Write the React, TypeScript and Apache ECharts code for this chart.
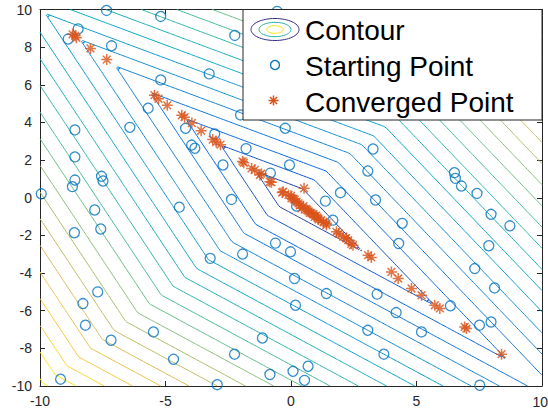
import React, { useEffect, useRef } from "react";
import * as echarts from "echarts";

// Piecewise-linear objective whose contours are drawn: f = A|x+y| + B|x-y| + C(x-y)
const F_A = 1.064;
const F_B = 0.266;
const F_C = -0.0915;
const CONTOUR_LEVELS = [1, 2, 3, 4, 5, 6, 7, 8, 9, 10, 11, 12, 13, 14, 15, 16, 17, 18, 19, 20, 21];
const GRID_COUNT = 201; // samples per axis over [-10, 10]

const X_TICKS = [-10, -5, 0, 5, 10];
const Y_TICKS = [-10, -8, -6, -4, -2, 0, 2, 4, 6, 8, 10];

const LEGEND_LABELS = ["Contour", "Starting Point", "Converged Point"];

const startX = [
  -7.35, -5.19, -8.48, -8.88, -7.15, -2.24, -3.26, -5.19, -5.69, -6.42,
  -8.61, -4.2, -3.04, -3.96, -3.83, -1.79, -8.61, -2.71, -7.55, -8.61,
  -7.49, -8.71, -9.95, -2.01, -2.37, -4.45, -0.82, -7.82, -7.58, -8.63,
  -7.7, -3.22, -8.29, -8.19, -7.17, -5.48, -4.68, -2.25, -9.18, -2.94,
  -1.93, -0.62, -1.14, -0.84, 1.67, -0.02, 4.43, 4.29, 0.14, 1.41,
  3.43, 0.18, 4.19, 3.06, 5.2, 6.35, 7.51, 7.97, 3.7, 7.32,
  8.11, 7.88, 7.97, 8.72, 0.08, 0.68, 0.54, 7.52, -0.23, 3.27,
  -0.06, 3.06, 1.97, 1.37, 3.37, 6.51, 6.55, 6.79, 7.41, 0.22,
  -0.55,
];
const startY = [
  9.95, 9.63, 8.97, 8.43, 8.07, 8.62, 6.58, 6.26, 4.76, 3.74,
  3.6, 3.69, 3.39, 2.8, 2.63, 2.61, 2.17, 1.74, 1.14, 0.94,
  0.89, 0.59, 0.21, 4.4, -0.09, -0.5, 1.31, -0.65, -1.66, -1.86,
  -5.0, -3.22, -5.62, -6.77, -7.57, -7.13, -8.58, -8.31, -9.64, -9.93,
  -2.99, -2.41, -7.45, -9.39, -1.19, -2.87, -1.36, -2.43, -4.29, -5.09,
  -5.12, -5.71, -6.1, -7.04, -7.13, -5.74, -6.77, -6.6, -8.31, -3.76,
  -4.79, -2.55, -0.88, -1.49, -9.22, -8.95, -9.7, -9.96, 3.69, 2.59,
  1.74, 1.42, 0.27, -0.18, -0.12, 1.33, 1.03, 0.62, 0.23, -0.44,
  9.9,
];

const convX = [
  -8.7, -8.6, -8.55, -7.99, -7.34, -5.44, -5.28, -4.93, -4.35, -4.24,
  -3.95, -3.58, -3.12, -2.98, -2.81, -1.93, -1.88, -1.57, -1.44, -1.24,
  -1.18, -0.84, -0.78, -0.31, -0.35, 0.02, 0.22, 0.52, 0.1, 0.3,
  0.42, 0.5, 0.6, 0.7, 0.82, 0.9, 0.95, 1.05, 1.1, 1.2,
  1.3, 1.41, 1.41, -0.1, 0.0, 0.15, 0.35, 0.65, 0.75, 1.0,
  1.81, 1.9, 2.08, 2.2, 2.28, 2.4, 2.47, 3.07, 3.2, 4.0,
  4.27, 4.8, 5.2, 5.73, 5.93, 6.92, 6.99, 8.39,
];
const convY = [
  8.68, 8.6, 8.5, 7.93, 7.34, 5.45, 5.26, 4.91, 4.38, 4.28,
  3.97, 3.56, 3.09, 2.96, 2.82, 1.93, 1.86, 1.56, 1.48, 1.21,
  1.28, 0.85, 0.82, 0.32, 0.28, -0.03, -0.21, 0.5, -0.05, -0.3,
  -0.56, -0.45, -0.6, -0.72, -0.83, -0.88, -1.01, -1.05, -1.15, -1.2,
  -1.3, -1.36, -1.45, 0.15, 0.1, -0.1, -0.4, -0.65, -0.8, -0.95,
  -1.81, -1.9, -2.07, -2.15, -2.25, -2.45, -2.52, -3.05, -3.17, -3.94,
  -4.29, -4.82, -5.18, -5.71, -5.88, -6.86, -6.95, -8.31,
];

const PARULA = ["#352a87", "#0363e1", "#1485d4", "#06a7c6", "#38b99e", "#92bf73", "#d9ba56", "#fcce2e", "#f9fb0e"];
const BLUE = "#0072BD";
const ORANGE = "#D95319";
const AXIS_COLOR = "#262626";
const FONT_FAMILY = '"Liberation Sans", Arial, Helvetica, sans-serif';

function hexToRgb(h: string) {
  const v = parseInt(h.slice(1), 16);
  return [(v >> 16) & 255, (v >> 8) & 255, v & 255];
}
function parula(t: number) {
  const tt = Math.max(0, Math.min(1, t));
  const p = tt * (PARULA.length - 1);
  const i = Math.min(Math.floor(p), PARULA.length - 2);
  const f = p - i;
  const a = hexToRgb(PARULA[i]);
  const b = hexToRgb(PARULA[i + 1]);
  const c = a.map((v, k) => Math.round(v + (b[k] - v) * f));
  return `rgb(${c[0]},${c[1]},${c[2]})`;
}

function objective(x: number, y: number) {
  return F_A * Math.abs(x + y) + F_B * Math.abs(x - y) + F_C * (x - y);
}

function contourLines(level: number, xs: number[], ys: number[], Z: number[][]) {
  const pts = new Map<string, number[]>();
  const adj = new Map<string, number[]>();
  const segs: [string, string][] = [];
  const addPt = (key: string, xa: number, ya: number, va: number, xb: number, yb: number, vb: number) => {
    if (!pts.has(key)) {
      const t = (level - va) / (vb - va);
      pts.set(key, [xa + t * (xb - xa), ya + t * (yb - ya)]);
    }
  };
  const n = xs.length;
  const m = ys.length;
  for (let j = 0; j < m - 1; j++) {
    for (let i = 0; i < n - 1; i++) {
      const v0 = Z[j][i], v1 = Z[j][i + 1], v2 = Z[j + 1][i + 1], v3 = Z[j + 1][i];
      const cross: string[] = [];
      if (v0 > level !== v1 > level) {
        const k = `h${i}_${j}`;
        addPt(k, xs[i], ys[j], v0, xs[i + 1], ys[j], v1);
        cross.push(k);
      }
      if (v1 > level !== v2 > level) {
        const k = `v${i + 1}_${j}`;
        addPt(k, xs[i + 1], ys[j], v1, xs[i + 1], ys[j + 1], v2);
        cross.push(k);
      }
      if (v3 > level !== v2 > level) {
        const k = `h${i}_${j + 1}`;
        addPt(k, xs[i], ys[j + 1], v3, xs[i + 1], ys[j + 1], v2);
        cross.push(k);
      }
      if (v0 > level !== v3 > level) {
        const k = `v${i}_${j}`;
        addPt(k, xs[i], ys[j], v0, xs[i], ys[j + 1], v3);
        cross.push(k);
      }
      if (cross.length === 2) segs.push([cross[0], cross[1]]);
      else if (cross.length === 4) {
        segs.push([cross[0], cross[1]]);
        segs.push([cross[2], cross[3]]);
      }
    }
  }
  segs.forEach((s, idx) => {
    for (const k of s) {
      if (!adj.has(k)) adj.set(k, []);
      adj.get(k)!.push(idx);
    }
  });
  const used = new Array(segs.length).fill(false);
  const walk = (startKey: string) => {
    const line: number[][] = [pts.get(startKey)!];
    let cur = startKey;
    for (;;) {
      const list = adj.get(cur) || [];
      let next = -1;
      for (const s of list) if (!used[s]) { next = s; break; }
      if (next < 0) break;
      used[next] = true;
      const [a, b] = segs[next];
      cur = a === cur ? b : a;
      line.push(pts.get(cur)!);
    }
    return line;
  };
  const lines: number[][][] = [];
  adj.forEach((list, key) => {
    if (list.length === 1 && !used[list[0]]) lines.push(walk(key));
  });
  for (let s = 0; s < segs.length; s++) if (!used[s]) lines.push(walk(segs[s][0]));
  return lines;
}

export default function App() {
  const ref = useRef<HTMLDivElement>(null);
  useEffect(() => {
    if (!ref.current) return;
    const chart = echarts.init(ref.current, undefined, { renderer: "svg" });

    const xs: number[] = [];
    const ys: number[] = [];
    for (let i = 0; i < GRID_COUNT; i++) {
      xs.push((i - (GRID_COUNT - 1) / 2) / ((GRID_COUNT - 1) / 20));
      ys.push((i - (GRID_COUNT - 1) / 2) / ((GRID_COUNT - 1) / 20));
    }
    const Z = ys.map((y) => xs.map((x) => objective(x, y)));
    let zmin = Infinity, zmax = -Infinity;
    Z.forEach((r) => r.forEach((v) => { if (v < zmin) zmin = v; if (v > zmax) zmax = v; }));

    const series: any[] = [];
    CONTOUR_LEVELS.forEach((lv) => {
      const color = parula((lv - zmin) / (zmax - zmin));
      contourLines(lv, xs, ys, Z).forEach((line) => {
        series.push({
          type: "line",
          data: line,
          showSymbol: false,
          symbol: "none",
          silent: true,
          lineStyle: { color, width: 1 },
          z: 1,
        });
      });
    });

    series.push({
      type: "scatter",
      name: LEGEND_LABELS[1],
      data: startX.map((x, i) => [x, startY[i]]),
      symbol: "circle",
      symbolSize: 10,
      itemStyle: { color: "rgba(0,0,0,0)", borderColor: BLUE, borderWidth: 1.3 },
      silent: true,
      z: 3,
    });
    series.push({
      type: "scatter",
      name: LEGEND_LABELS[2],
      data: convX.map((x, i) => [x, convY[i]]),
      symbol: "path://M5,0L5,10M0,5L10,5M1.46,1.46L8.54,8.54M1.46,8.54L8.54,1.46",
      symbolSize: 11,
      itemStyle: { color: "rgba(0,0,0,0)", borderColor: ORANGE, borderWidth: 1.5 },
      silent: true,
      z: 4,
    });

    const legendX = 243;
    const legendY = 9.5;
    const rowY = [30.5, 66.5, 102.5];
    const textX = 305;
    const iconX = 275;
    const starR = 5;
    const sx = iconX - 1.5;
    const sy = rowY[2] - 2;
    const starStyle = { stroke: ORANGE, lineWidth: 1.5 };
    const graphic: any[] = [
      {
        type: "rect",
        shape: { x: legendX, y: legendY, width: 299, height: 110.5 },
        style: { fill: "#ffffff", stroke: AXIS_COLOR, lineWidth: 1 },
        z: 100,
      },
      { type: "ellipse", shape: { cx: iconX, cy: 29.5, rx: 24, ry: 11 }, style: { fill: "none", stroke: PARULA[0], lineWidth: 1 }, z: 101 },
      { type: "ellipse", shape: { cx: iconX, cy: 29.5, rx: 16, ry: 7.2 }, style: { fill: "none", stroke: "#2fb6a8", lineWidth: 1 }, z: 101 },
      { type: "ellipse", shape: { cx: iconX, cy: 29.5, rx: 8.3, ry: 3.8 }, style: { fill: "none", stroke: "#f2e51d", lineWidth: 1 }, z: 101 },
      { type: "circle", shape: { cx: iconX, cy: rowY[1] - 1.5, r: 4.5 }, style: { fill: "none", stroke: BLUE, lineWidth: 1.3 }, z: 101 },
      { type: "line", shape: { x1: sx, y1: sy - starR, x2: sx, y2: sy + starR }, style: starStyle, z: 101 },
      { type: "line", shape: { x1: sx - starR, y1: sy, x2: sx + starR, y2: sy }, style: starStyle, z: 101 },
      { type: "line", shape: { x1: sx - 3.54, y1: sy - 3.54, x2: sx + 3.54, y2: sy + 3.54 }, style: starStyle, z: 101 },
      { type: "line", shape: { x1: sx - 3.54, y1: sy + 3.54, x2: sx + 3.54, y2: sy - 3.54 }, style: starStyle, z: 101 },
      // last x tick label, pulled inside the page so it is not cut at the right edge
      {
        type: "text",
        x: 548,
        y: 401.5,
        style: {
          text: String(X_TICKS[X_TICKS.length - 1]),
          fill: AXIS_COLOR,
          font: `14px ${FONT_FAMILY}`,
          textAlign: "right",
          textVerticalAlign: "middle",
        },
        z: 102,
      },
    ];
    LEGEND_LABELS.forEach((label, i) => {
      graphic.push({
        type: "text",
        x: textX,
        y: rowY[i],
        style: {
          text: label,
          fill: "#000000",
          font: `28px ${FONT_FAMILY}`,
          textAlign: "left",
          textVerticalAlign: "middle",
        },
        z: 102,
      });
    });

    const axisCommon = {
      type: "value",
      min: -10,
      max: 10,
      splitLine: { show: false },
      axisLine: { show: true, onZero: false, lineStyle: { color: AXIS_COLOR, width: 1 } },
      axisTick: { show: true, inside: true, length: 5, lineStyle: { color: AXIS_COLOR, width: 1 } },
    };
    const labelStyle = {
      color: AXIS_COLOR,
      fontSize: 14,
      fontFamily: FONT_FAMILY,
    };

    chart.setOption({
      animation: false,
      grid: { left: 40, right: 6, top: 9.5, bottom: 24, containLabel: false, outerBoundsMode: "none" },
      xAxis: [
        {
          ...axisCommon,
          position: "bottom",
          interval: 5,
          axisLabel: { ...labelStyle, margin: 8, customValues: X_TICKS.slice(0, X_TICKS.length - 1) },
        },
        { ...axisCommon, position: "top", interval: 5, axisLabel: { show: false } },
      ],
      yAxis: [
        { ...axisCommon, position: "left", interval: 2, axisLabel: { ...labelStyle, margin: 8, customValues: Y_TICKS } },
        { ...axisCommon, position: "right", interval: 2, axisLabel: { show: false } },
      ],
      series,
      graphic,
    });
    return () => chart.dispose();
  }, []);
  return (
    <div
      ref={ref}
      style={{ position: "fixed", left: 0, top: 0, width: 548, height: 410, background: "#ffffff" }}
    />
  );
}
